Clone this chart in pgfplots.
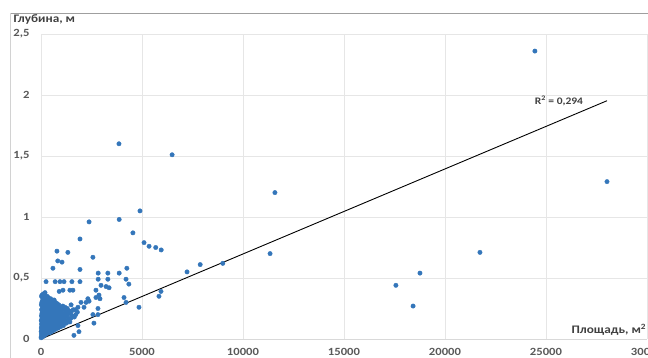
\documentclass[border=0pt]{standalone}
\usepackage{pgfplots}
\pgfplotsset{compat=1.18}
\usepackage{fontspec}
\setmainfont{Carlito}[FakeStretch=1.15]
\definecolor{ptblue}{RGB}{52,118,186}
\definecolor{gridgray}{RGB}{230,230,230}
\definecolor{labgray}{RGB}{89,89,89}
\definecolor{titlegray}{RGB}{64,64,64}

\begin{document}
\begin{tikzpicture}[x=1pt,y=1pt]
\useasboundingbox (0,0) rectangle (648,358);
% chart frame
\draw[gray!75, line width=0.9pt] (10,345) -- (648,345);
\draw[gray!35, line width=0.8pt] (10,345) -- (10,0);
\begin{axis}[
  at={(41pt,19pt)}, anchor=origin,
  scale only axis, width=606pt, height=305pt,
  xmin=0, xmax=30000, ymin=0, ymax=2.5,
  axis line style={draw=none},
  clip=false,
  xtick pos=bottom, ytick pos=left,
  xtick={0,5000,10000,15000,20000,25000,30000},
  xticklabels={0,5000,10000,15000,20000,25000,30000},
  ytick={0,0.5,1,1.5,2,2.5},
  yticklabels={0,{0,5},1,{1,5},2,{2,5}},
  major tick length=0pt,
  /pgf/number format/assume math mode=true,
  ticklabel style={font=\fontsize{11}{13}\selectfont\bfseries, text=labgray},
  yticklabel style={anchor=east, xshift=-8pt},
  xticklabel style={anchor=center, yshift=-13pt},
  grid=major,
  major grid style={gridgray, line width=0.8pt},
]
% light baseline at zero depth
\addplot[gray!30, line width=0.8pt, forget plot] coordinates {(0,0) (30000,0)};

% measured reservoirs: area (m^2) vs depth (m)
\addplot[only marks, mark=*, mark size=2.2pt, ptblue, mark options={draw=ptblue, fill=ptblue}] coordinates {
% dense group of small reservoirs
(5,0.01) (12,0.02) (20,0.04) (8,0.06) (30,0.07) (15,0.09) (40,0.1) (25,0.12) (50,0.13) (10,0.15) (35,0.16) (60,0.18) (20,0.19) (45,0.21) (70,0.22) (30,0.24) (55,0.25) (80,0.27) (15,0.28) (40,0.3) (65,0.31) (90,0.33) (25,0.35) (50,0.36)
(100,0.02) (120,0.04) (140,0.06) (110,0.08) (130,0.1) (150,0.11) (105,0.13) (125,0.15) (145,0.17) (115,0.19) (135,0.2) (155,0.22) (100,0.24) (120,0.26) (140,0.28) (110,0.3) (130,0.32) (150,0.34) (120,0.37)
(170,0.03) (190,0.05) (210,0.07) (180,0.09) (200,0.11) (225,0.12) (175,0.14) (195,0.16) (215,0.18) (185,0.2) (205,0.22) (230,0.23) (180,0.25) (200,0.27) (220,0.29) (190,0.31) (210,0.33) (240,0.35) (200,0.38)
(250,0.04) (270,0.06) (290,0.08) (260,0.1) (280,0.12) (305,0.13) (255,0.15) (275,0.17) (300,0.19) (265,0.21) (285,0.23) (310,0.25) (260,0.27) (290,0.29) (320,0.31) (270,0.33) (300,0.35)
(340,0.05) (360,0.07) (380,0.09) (350,0.11) (370,0.13) (395,0.14) (345,0.16) (365,0.18) (390,0.2) (355,0.22) (375,0.24) (400,0.26) (350,0.28) (380,0.3) (410,0.32) (360,0.34)
(430,0.05) (450,0.08) (470,0.1) (440,0.12) (460,0.14) (490,0.16) (435,0.18) (455,0.2) (480,0.22) (445,0.24) (470,0.26) (500,0.28) (450,0.3) (480,0.33)
(520,0.06) (545,0.09) (570,0.11) (530,0.13) (555,0.15) (585,0.17) (525,0.19) (550,0.21) (580,0.23) (540,0.25) (565,0.27) (600,0.29) (550,0.31)
(620,0.07) (650,0.1) (680,0.12) (630,0.14) (660,0.16) (695,0.18) (625,0.2) (655,0.22) (690,0.24) (640,0.26) (670,0.28) (710,0.3) (650,0.32)
(730,0.08) (760,0.11) (790,0.13) (740,0.15) (775,0.17) (810,0.19) (745,0.21) (780,0.23) (820,0.25) (760,0.27) (800,0.29)
(850,0.09) (880,0.12) (910,0.14) (860,0.16) (895,0.18) (930,0.2) (870,0.22) (905,0.24) (940,0.26) (880,0.28)
(970,0.1) (1000,0.13) (1040,0.15) (985,0.17) (1020,0.19) (1060,0.21) (1000,0.23) (1040,0.25) (1080,0.27)
(1110,0.11) (1150,0.14) (1190,0.16) (1130,0.18) (1170,0.2) (1220,0.22) (1140,0.24) (1190,0.26)
(1260,0.13) (1300,0.15) (1350,0.17) (1280,0.19) (1330,0.21) (1390,0.23) (1300,0.25)
(1430,0.14) (1480,0.17) (1540,0.19) (1460,0.21) (1520,0.23) (1600,0.24)
(1650,0.18) (1720,0.2) (1800,0.22) (1700,0.24)
% scattered small and medium reservoirs
(250,0.47) (700,0.47) (940,0.47) (1140,0.47) (1530,0.47) (1930,0.47)
(900,0.39) (1090,0.40) (1430,0.40) (1580,0.40)
(590,0.58) (790,0.72) (1330,0.71) (830,0.64) (1040,0.63) (1930,0.57)
(1930,0.82) (2380,0.96) (2570,0.67) (3870,0.98) (4900,1.05) (4550,0.87)
(5100,0.79) (5350,0.76) (5680,0.75) (5950,0.73)
(4250,0.58) (3870,0.54) (2830,0.54) (3310,0.54) (7230,0.55) (7880,0.61) (9000,0.62)
(2830,0.49) (3310,0.49) (4210,0.49) (4350,0.45) (2970,0.44) (3220,0.43) (3370,0.42)
(2720,0.40) (5940,0.39) (5840,0.35) (2870,0.36) (2920,0.33) (2320,0.33) (4110,0.34)
(4210,0.30) (4850,0.26) (2820,0.25) (2620,0.13) (1880,0.06) (1630,0.03) (1830,0.11)
(1980,0.30) (2230,0.30) (2380,0.31) (2720,0.34) (2570,0.20) (2820,0.20)
(1390,0.21) (1240,0.22) (1490,0.28) (1830,0.26) (2130,0.26)
% large reservoirs
(3860,1.60) (6490,1.51) (11580,1.20) (11340,0.70) (17570,0.44) (18420,0.27)
(18760,0.54) (21730,0.71) (24450,2.36) (28020,1.29)
};

% linear trend through the origin
\addplot[black, line width=0.9pt] coordinates {(0,0) (28020,1.953)};
\node[font=\fontsize{10}{12}\selectfont\bfseries, text=titlegray] at (axis cs:25640,1.95) {R\textsuperscript{2} = 0,294};
\end{axis}
\node[anchor=west, font=\fontsize{11.5}{13}\selectfont\bfseries, text=titlegray] at (10,339) {Глубина, м};
\node[anchor=west, font=\fontsize{11.5}{13}\selectfont\bfseries, text=titlegray] at (568,28) {Площадь, м\textsuperscript{2}};
\end{tikzpicture}
\end{document}
